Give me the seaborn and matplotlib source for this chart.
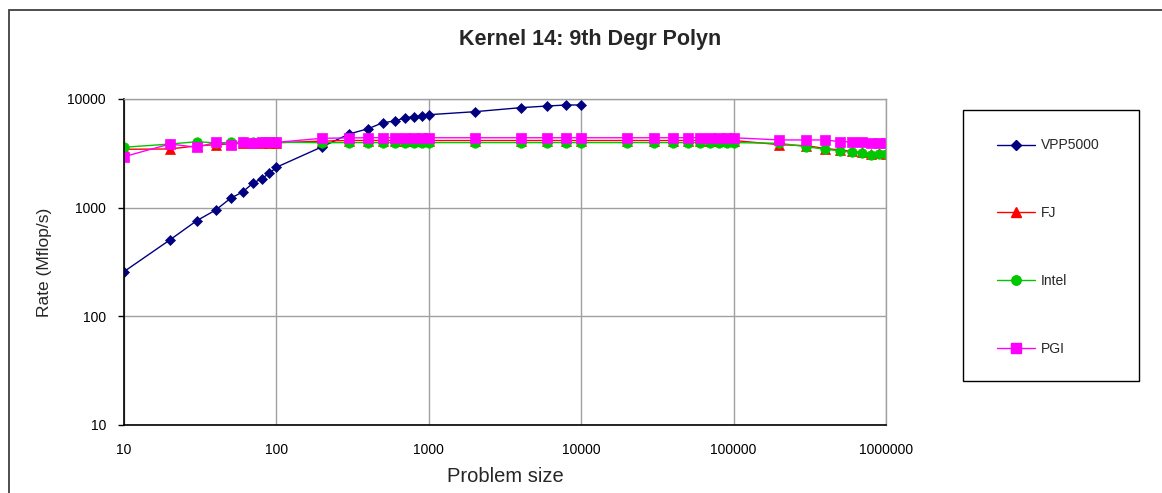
import numpy as np
import pandas as pd
import matplotlib
matplotlib.use("Agg")
import matplotlib.pyplot as plt
import seaborn as sns
from matplotlib.lines import Line2D
from matplotlib.patches import Rectangle

# ---------------- data ----------------
title = "Kernel 14: 9th Degr Polyn"
xlabel = "Problem size"
ylabel = "Rate (Mflop/s)"

sizes_vpp = [10, 20, 30, 40, 50, 60, 70, 80, 90, 100,
             200, 300, 400, 500, 600, 700, 800, 900, 1000,
             2000, 4000, 6000, 8000, 10000]
rate_vpp = [258, 505, 759, 952, 1219, 1394, 1676, 1848, 2072, 2354,
            3640, 4764, 5330, 6050, 6280, 6730, 6870, 6980, 7170,
            7640, 8320, 8620, 8810, 8810]

sizes_other = [10, 20, 30, 40, 50, 60, 70, 80, 90, 100,
               200, 300, 400, 500, 600, 700, 800, 900, 1000,
               2000, 4000, 6000, 8000, 10000,
               20000, 30000, 40000, 50000, 60000, 70000, 80000, 90000, 100000,
               200000, 300000, 400000, 500000, 600000, 700000, 800000, 900000, 1000000]

rate_fj = [3445, 3470, 3700, 3800, 3850, 3950, 3950, 3950, 3950, 3950,
           4100, 4150, 4150, 4150, 4150, 4150, 4150, 4150, 4150,
           4150, 4150, 4150, 4150, 4150,
           4150, 4150, 4150, 4150, 4150, 4150, 4150, 4150, 4150,
           3800, 3720, 3500, 3400, 3290, 3230, 3120, 3160, 3150]

rate_intel = [3595, 3850, 4045, 3950, 3990, 4000, 4000, 4000, 4000, 4000,
              3960, 3970, 3970, 3970, 3970, 3970, 3970, 3970, 3970,
              3970, 3970, 3970, 3970, 3970,
              3970, 3970, 3970, 3970, 3970, 3970, 3970, 3970, 3970,
              3910, 3640, 3445, 3340, 3230, 3170, 3050, 3100, 3100]

rate_pgi = [2945, 3855, 3595, 3990, 3775, 3990, 3960, 3990, 3990, 3990,
            4350, 4380, 4400, 4400, 4400, 4400, 4400, 4400, 4400,
            4400, 4400, 4400, 4400, 4400,
            4400, 4400, 4400, 4400, 4400, 4400, 4400, 4400, 4400,
            4200, 4200, 4200, 4045, 4045, 3990, 3970, 3910, 3910]

series_names = ["VPP5000", "FJ", "Intel", "PGI"]
series_colors = ["#000080", "#FF0000", "#00C800", "#FF00FF"]
series_markers = ["D", "^", "o", "s"]
series_msize = [4.8, 6.8, 6.8, 6.8]

y_ticks = [10, 100, 1000, 10000]
x_ticks = [10, 100, 1000, 10000, 100000, 1000000]

# ---------------- figure ----------------
sns.set_theme(style="white")
plt.rcParams["font.family"] = ["Liberation Sans", "DejaVu Sans"]

W, H = 1162, 493
fig = plt.figure(figsize=(W / 100, H / 100), dpi=100)
fig.patch.set_facecolor("white")

# outer chart border (extends beyond the image on right/bottom)
fig.patches.append(Rectangle((9 / W, -0.2), 1.2, 1 - 10 / H + 0.2,
                             transform=fig.transFigure, fill=False,
                             edgecolor="#404040", linewidth=1.3))

# legend box
fig.patches.append(Rectangle((963 / W, 1 - 381 / H), (1139 - 963) / W,
                             (381 - 110) / H, transform=fig.transFigure,
                             fill=False, edgecolor="black", linewidth=1.0))

ax = fig.add_axes([124 / W, 1 - 425 / H, (886 - 124) / W, (425 - 99) / H])
ax.set_xscale("log")
ax.set_yscale("log")

data_sets = [
    (sizes_vpp, rate_vpp),
    (sizes_other, rate_fj),
    (sizes_other, rate_intel),
    (sizes_other, rate_pgi),
]

for (xs, ys), name, col, mk, ms in zip(data_sets, series_names, series_colors,
                                       series_markers, series_msize):
    df = pd.DataFrame({"size": xs, "rate": ys})
    sns.lineplot(data=df, x="size", y="rate", ax=ax, color=col, marker=mk,
                 markersize=ms, markeredgecolor=col, markeredgewidth=0.5,
                 linewidth=1.0, estimator=None, sort=False, legend=False)

ax.set_xlim(10, 1000000)
ax.set_ylim(10, 10000)
ax.set_xticks(x_ticks)
ax.set_xticklabels([str(v) for v in x_ticks])
ax.set_yticks(y_ticks)
ax.set_yticklabels([str(v) for v in y_ticks])
ax.minorticks_off()
ax.tick_params(axis="x", length=0, pad=13, labelsize=10, colors="black")
ax.tick_params(axis="y", length=4, width=1, direction="out", pad=9,
               labelsize=10, colors="black", left=True)

ax.grid(True, which="major", color="#A0A0A0", linewidth=1.0)
ax.set_axisbelow(True)
for s in ["left", "bottom"]:
    ax.spines[s].set_color("black")
    ax.spines[s].set_linewidth(1.2)
for s in ["top", "right"]:
    ax.spines[s].set_color("#A0A0A0")
    ax.spines[s].set_linewidth(1.0)

ax.set_xlabel(xlabel, fontsize=14.5, labelpad=7)
ax.set_ylabel(ylabel, fontsize=12.5, labelpad=11)

fig.text(590 / W, 1 - 40 / H, title, ha="center", va="center",
         fontsize=15.5, fontweight="bold")

handles = [Line2D([0], [0], color=c, marker=m, markersize=ms,
                  markeredgecolor=c, linewidth=1.0)
           for c, m, ms in zip(series_colors, series_markers, series_msize)]
leg = fig.legend(handles, series_names, loc="upper left",
                 bbox_to_anchor=(969 / W, 1 - 110 / H, (1139 - 969) / W, 0),
                 mode="expand", fontsize=10, frameon=False,
                 borderpad=2.05, labelspacing=3.88, handlelength=2.7,
                 handletextpad=0.45, borderaxespad=0)

fig.savefig("out.png", dpi=100, facecolor="white")
